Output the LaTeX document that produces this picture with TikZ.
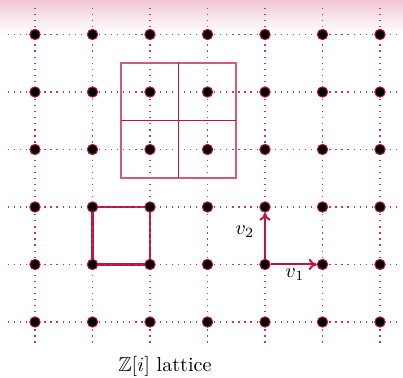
\documentclass[tikz,border=0pt]{standalone}
\usepackage{amssymb}
\usetikzlibrary{backgrounds,arrows.meta}
\definecolor{lred}{RGB}{190,20,65}
\definecolor{hdr}{RGB}{240,196,208}
\begin{document}
\begin{tikzpicture}[x=1cm,y=1cm,
  pt/.style={circle,fill=black,draw=lred,line width=0.5pt,inner sep=0pt,minimum size=0.18cm},
  gridline/.style={lred!85,line width=0.6pt,dash pattern=on 0.6pt off 2.4pt},
  edge/.style={lred,line width=1.1pt},
  vec/.style={lred,line width=1pt,-{To[length=4pt,width=5.5pt]}}]
\useasboundingbox (-0.609,-0.974) rectangle (6.4,5.6);
\shade[top color=hdr,bottom color=white,middle color=hdr!40] (-0.609,5.6) rectangle (6.4,5.0);
\foreach \j in {0,...,5} \draw[gridline] (-0.47,\j) -- (6.35,\j);
\foreach \i in {0,...,6} \draw[gridline] (\i,5.46) -- (\i,-0.4);
% four-cell square
\draw[lred!70,line width=1.1pt] (1.5,2.5) rectangle (3.5,4.5);
\draw[lred,line width=0.7pt] (2.5,2.5) -- (2.5,4.5) (1.5,3.5) -- (3.5,3.5);
\foreach \i in {0,...,6} \foreach \j in {0,...,5} \node[pt] (p\i\j) at (\i,\j) {};
\begin{scope}[on background layer]
\draw[edge] (p11.center) -- (p21.center) -- (p22.center) -- (p12.center) -- cycle;
\end{scope}
\draw[vec] (p41) -- (p51);
\draw[vec] (p41) -- (p42);
\node (v1) at (4.52,0.82) {$v_1$};
\node (v2) at (3.65,1.57) {$v_2$};
\node (lbl) at (2.26,-0.78) {$\mathbb{Z}[i]$ lattice};
\end{tikzpicture}
\end{document}
